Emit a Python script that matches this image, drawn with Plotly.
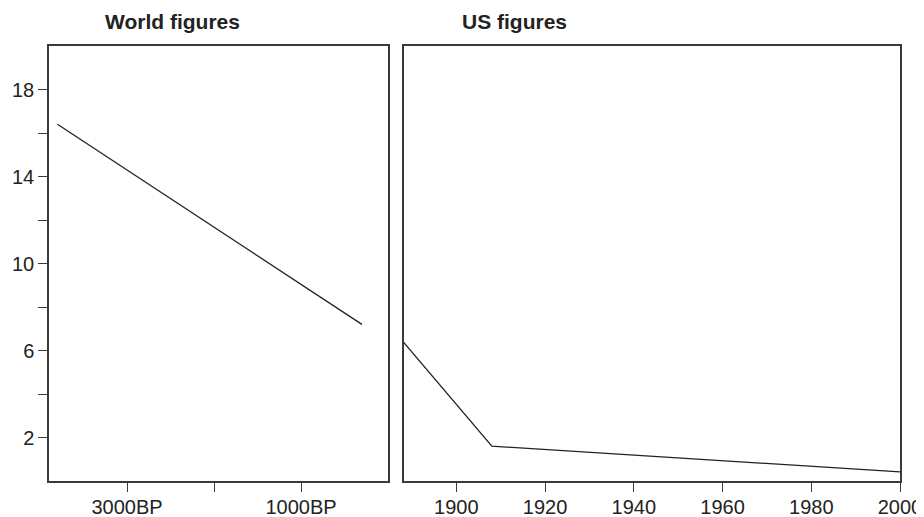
import plotly.graph_objects as go

# World figures (years before present)
world_years_bp = [3800, 300]
world_values = [16.4, 7.2]

# US figures (calendar years)
us_years = [1888, 1908, 2000]
us_values = [6.4, 1.6, 0.42]

y_tickvals = [2, 4, 6, 8, 10, 12, 14, 16, 18]
y_ticktext = ["2", "", "6", "", "10", "", "14", "", "18"]
world_tickvals = [3000, 2000, 1000]
world_ticktext = ["3000BP", "", "1000BP"]
us_tickvals = [1900, 1920, 1940, 1960, 1980, 2000]

# the page body has an 8px default margin; lay out in viewport pixels
OFF = 8
VW, VH = 924, 517
W, H = VW - OFF, VH - OFF
left_px, right_px, top_px, bottom_px = 49, 900, 46, 481
ml = left_px - OFF
mt = top_px - OFF
mr = W - (right_px - OFF)
mb = H - (bottom_px - OFF)
pw = W - ml - mr
ph = H - mt - mb

def px_x(p):
    return (p - left_px) / pw

def px_y(p):
    return (bottom_px - p) / ph

FAM = "Liberation Sans, Arial, sans-serif"

fig = go.Figure()
fig.add_trace(go.Scatter(x=world_years_bp, y=world_values, mode="lines",
                         line=dict(color="#222222", width=1.3),
                         xaxis="x", yaxis="y", showlegend=False))
fig.add_trace(go.Scatter(x=us_years, y=us_values, mode="lines",
                         line=dict(color="#222222", width=1.3),
                         xaxis="x2", yaxis="y2", showlegend=False))

font = dict(family=FAM, size=20, color="#222222")
axis_common = dict(showline=True, mirror=True, linecolor="#3a3a3a", linewidth=1.5,
                   showgrid=False, zeroline=False, ticklen=9, automargin=False,
                   tickwidth=1.2, tickcolor="#3a3a3a", tickfont=font)

fig.update_layout(
    width=W, height=H,
    margin=dict(l=ml, r=mr, t=mt, b=mb, autoexpand=False),
    plot_bgcolor="white", paper_bgcolor="white",
    xaxis=dict(domain=[0, px_x(388)], range=[3897, 0], tickmode="array", ticks="outside",
               tickvals=world_tickvals, ticktext=world_ticktext, anchor="y",
               ticklabelstandoff=-2, **axis_common),
    yaxis=dict(domain=[0, 1], range=[0, 20], tickmode="array", ticks="outside",
               tickvals=y_tickvals, ticktext=y_ticktext, anchor="x", **axis_common),
    xaxis2=dict(domain=[px_x(404), 1], range=[1888.2, 2000], tickmode="array", ticks="outside",
                tickvals=us_tickvals, anchor="y2", ticklabelstandoff=-2, **axis_common),
    yaxis2=dict(domain=[0, 1], range=[0, 20], anchor="x2", showticklabels=False, ticks="",
                **axis_common),
    annotations=[
        dict(text="<b>World figures</b>", xref="paper", yref="paper",
             x=px_x(103), y=px_y(22), xanchor="left", yanchor="middle",
             showarrow=False, font=dict(family=FAM, size=21, color="#222222")),
        dict(text="<b>US figures</b>", xref="paper", yref="paper",
             x=px_x(460), y=px_y(22), xanchor="left", yanchor="middle",
             showarrow=False, font=dict(family=FAM, size=21, color="#222222")),
    ],
)

fig.write_html("out.html")
